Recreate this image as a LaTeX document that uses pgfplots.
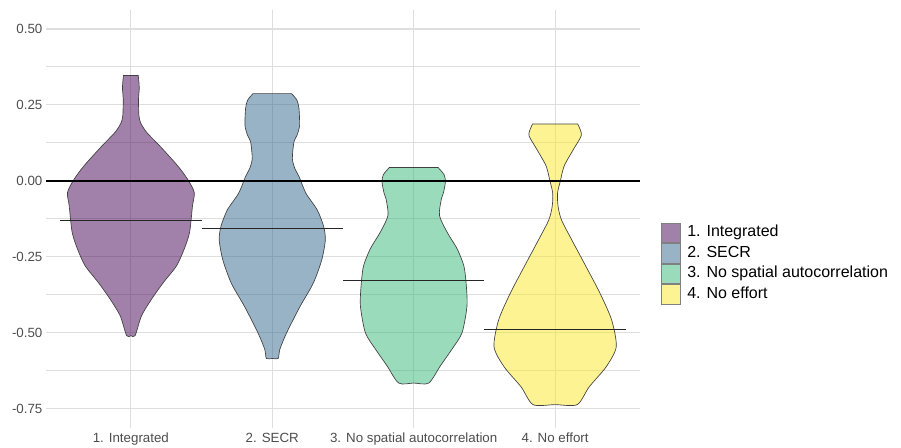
\documentclass[border=0pt]{standalone}
\usepackage{pgfplots}
\pgfplotsset{compat=1.18}
\usepackage{fontspec}
\setmainfont{Liberation Sans}
\definecolor{vA}{HTML}{440154}
\definecolor{vB}{HTML}{31688E}
\definecolor{vC}{HTML}{35B779}
\definecolor{vD}{HTML}{FDE725}
\definecolor{gridc}{RGB}{222,222,222}
\definecolor{tickc}{HTML}{4D4D4D}
\begin{document}
\begin{tikzpicture}
\useasboundingbox (0,0) rectangle (675.75pt,335.25pt);
\begin{axis}[
  at={(34.5pt,14.25pt)}, anchor=south west,
  scale only axis, width=445.5pt, height=313.5pt,
  xmin=0.4, xmax=4.6, ymin=-0.814, ymax=0.5625,
  axis line style={draw=none},
  major tick length=0pt, minor tick length=0pt,
  xtick={1,2,3,4},
  xticklabels={1. Integrated,2. SECR,3. No spatial autocorrelation,4. No effort},
  ytick={-0.75,-0.5,-0.25,0,0.25,0.5},
  yticklabels={-0.75,-0.50,-0.25,0.00,0.25,0.50},
  minor ytick={-0.625,-0.375,-0.125,0.125,0.375},
  grid=both,
  major grid style={gridc, line width=0.8pt},
  minor grid style={gridc, line width=0.7pt},
  tick label style={font=\fontsize{10}{12}\selectfont, text=tickc},
  xticklabel style={inner sep=0pt, anchor=north, yshift=-3.75pt},
  yticklabel style={inner sep=0pt, anchor=east, xshift=-2.5pt},
  legend image code/.code={\draw[#1, draw=gray] (0pt,-7.4pt) rectangle (14.2pt,7.4pt);},
  legend style={at={(1.0354,0.3935)}, anchor=west, draw=none, fill=none,
    inner sep=0pt, outer sep=0pt, row sep=0pt, column sep=5pt,
    font=\fontsize{12}{14}\selectfont,
    nodes={inner sep=0pt, text height=9pt, text depth=3pt}},
  legend cell align=left,
  violin/.style={fill opacity=0.5, draw=black!75, line width=0.5pt, smooth, tension=0.45},
]
\addplot[violin, fill=vA] coordinates {
(1.052,0.347)(1.058,0.32)(1.059,0.30)(1.054,0.27)(1.057,0.215)(1.07,0.19)(1.111,0.16)(1.177,0.128)(1.224,0.105)(1.33,0.05)(1.40,0.006)(1.448,-0.038)(1.436,-0.082)(1.415,-0.17)(1.377,-0.225)(1.323,-0.28)(1.23,-0.335)(1.146,-0.39)(1.075,-0.445)(1.03,-0.51)
(1.0,-0.51)
(0.97,-0.51)(0.925,-0.445)(0.854,-0.39)(0.77,-0.335)(0.677,-0.28)(0.623,-0.225)(0.585,-0.17)(0.564,-0.082)(0.552,-0.038)(0.60,0.006)(0.67,0.05)(0.776,0.105)(0.823,0.128)(0.889,0.16)(0.93,0.19)(0.943,0.215)(0.946,0.27)(0.941,0.30)(0.942,0.32)(0.948,0.347)
} -- cycle;
\addlegendentry{1. Integrated}
\addplot[violin, fill=vB] coordinates {
(2.137,0.287)(2.175,0.265)(2.189,0.237)(2.193,0.182)(2.175,0.15)(2.153,0.128)(2.142,0.073)(2.16,0.04)(2.189,0.014)(2.238,-0.041)(2.318,-0.096)(2.363,-0.15)(2.375,-0.195)(2.35,-0.26)(2.29,-0.337)(2.196,-0.414)(2.1,-0.502)(2.052,-0.557)(2.042,-0.585)
(2.0,-0.585)
(1.958,-0.585)(1.948,-0.557)(1.9,-0.502)(1.804,-0.414)(1.71,-0.337)(1.65,-0.26)(1.625,-0.195)(1.637,-0.15)(1.682,-0.096)(1.762,-0.041)(1.811,0.014)(1.84,0.04)(1.858,0.073)(1.847,0.128)(1.825,0.15)(1.807,0.182)(1.811,0.237)(1.825,0.265)(1.863,0.287)
} -- cycle;
\addlegendentry{2. SECR}
\addplot[violin, fill=vC] coordinates {
(3.172,0.044)(3.215,0.02)(3.224,-0.004)(3.21,-0.04)(3.196,-0.059)(3.182,-0.114)(3.236,-0.169)(3.307,-0.224)(3.354,-0.279)(3.37,-0.334)(3.377,-0.411)(3.342,-0.5)(3.271,-0.554)(3.189,-0.609)(3.106,-0.666)
(3.0,-0.666)
(2.894,-0.666)(2.811,-0.609)(2.729,-0.554)(2.658,-0.5)(2.623,-0.411)(2.63,-0.334)(2.646,-0.279)(2.693,-0.224)(2.764,-0.169)(2.818,-0.114)(2.804,-0.059)(2.79,-0.04)(2.776,-0.004)(2.785,0.02)(2.828,0.044)
} -- cycle;
\addlegendentry{3. No spatial autocorrelation}
\addplot[violin, fill=vD] coordinates {
(4.16,0.187)(4.18,0.165)(4.184,0.147)(4.13,0.104)(4.064,0.049)(4.038,0.002)(4.017,-0.041)(4.021,-0.085)(4.045,-0.129)(4.118,-0.195)(4.219,-0.283)(4.318,-0.371)(4.4,-0.459)(4.432,-0.547)(4.36,-0.613)(4.24,-0.679)(4.156,-0.737)
(4.0,-0.737)
(3.844,-0.737)(3.76,-0.679)(3.64,-0.613)(3.568,-0.547)(3.6,-0.459)(3.682,-0.371)(3.781,-0.283)(3.882,-0.195)(3.955,-0.129)(3.979,-0.085)(3.983,-0.041)(3.962,0.002)(3.936,0.049)(3.87,0.104)(3.816,0.147)(3.82,0.165)(3.84,0.187)
} -- cycle;
\addlegendentry{4. No effort}
\addplot[forget plot, black, line width=1.3pt] coordinates {(0.4,0)(4.6,0)};
\addplot[forget plot, black!85, line width=0.7pt] coordinates {(0.5,-0.13)(1.5,-0.13)};
\addplot[forget plot, black!85, line width=0.7pt] coordinates {(1.5,-0.157)(2.5,-0.157)};
\addplot[forget plot, black!85, line width=0.7pt] coordinates {(2.5,-0.327)(3.5,-0.327)};
\addplot[forget plot, black!85, line width=0.7pt] coordinates {(3.5,-0.489)(4.5,-0.489)};
\end{axis}
\end{tikzpicture}
\end{document}
